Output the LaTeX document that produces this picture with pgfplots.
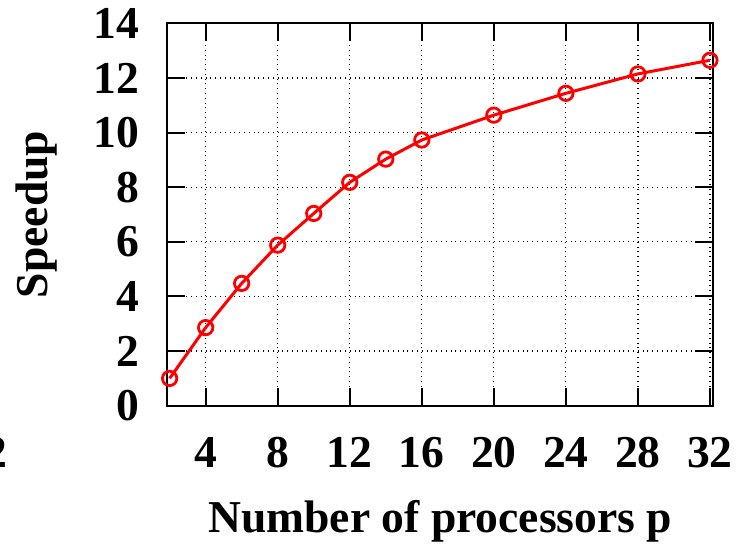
\documentclass[border=0pt]{standalone}
\usepackage{fontspec}
\setmainfont{Liberation Serif}
\usepackage{pgfplots}
\pgfplotsset{compat=1.18}
\begin{document}
\fontsize{22.8}{27}\selectfont\bfseries
\begin{tikzpicture}
\begin{axis}[
  scale only axis,
  width=272.85pt, height=191.15pt,
  xmin=1.87, xmax=32.17,
  ymin=0, ymax=14,
  xtick={4,8,12,16,20,24,28,32},
  ytick={0,2,4,6,8,10,12,14},
  tick align=inside,
  major tick length=9pt,
  every tick/.style={black, line width=1pt},
  axis line style={line width=1pt},
  grid=major,
  major grid style={black, dotted, line width=0.6pt},
  /pgf/number format/assume math mode=true,
  ticklabel style={font=\fontsize{22.8}{27}\selectfont\bfseries},
  yticklabel style={inner sep=0pt, xshift=-14pt},
  xticklabel style={inner sep=0pt, yshift=-15.5pt},
  xlabel={Number of processors p},
  ylabel={Speedup},
  label style={font=\fontsize{22.8}{27}\selectfont\bfseries},
  xlabel style={at={(axis description cs:0.5,0)}, anchor=base, yshift=-63.15pt},
  ylabel style={at={(axis description cs:0,0.5)}, anchor=base, rotate=0, yshift=59.65pt},
  clip=false,
]
\addplot[red, line width=1.5pt, mark=o, mark size=3.6pt, mark options={line width=1.4pt}]
coordinates {
(2,1.0) (4,2.86) (6,4.48) (8,5.88) (10,7.04) (12,8.18) (14,9.03) (16,9.73)
(20,10.64) (24,11.44) (28,12.15) (32,12.65)
};
\end{axis}
\node[anchor=north, inner sep=0pt] at (-85.65pt,-15.5pt) {2};
\pgfresetboundingbox
\path[use as bounding box] (-83.65pt,-70.65pt) rectangle (287.85pt,202.85pt);
\end{tikzpicture}
\end{document}
